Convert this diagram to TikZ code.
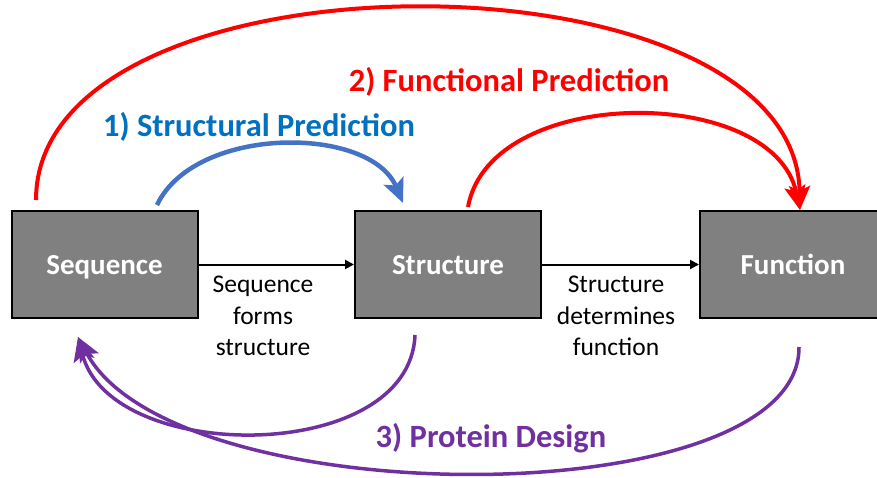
\documentclass[tikz,border=0pt]{standalone}
\usepackage{fontspec}
\setmainfont{Carlito}
\usetikzlibrary{arrows.meta}
\definecolor{boxgray}{HTML}{808080}
\definecolor{arcred}{HTML}{FF0000}
\definecolor{arcblue}{HTML}{4472C4}
\definecolor{titleblue}{HTML}{0070C0}
\definecolor{arcpurple}{HTML}{7030A0}
\begin{document}
\begin{tikzpicture}[x=1pt,y=-1pt,
  box/.style={draw=black, line width=2pt, fill=boxgray, minimum width=186pt, minimum height=107pt, inner sep=0pt, text height=23pt, text depth=3pt, text=white, font=\fontsize{29}{35}\selectfont\bfseries},
  title/.style={inner sep=0pt, font=\fontsize{32.5}{39}\selectfont\bfseries},
  note/.style={inner sep=0pt, align=center, font=\fontsize{25.5}{31.5}\selectfont},
  flow/.style={draw=black, line width=2pt, -{Triangle[length=9pt,width=9pt]}},
  bigtip/.style={-{Stealth[length=24pt,width=21pt,inset=5pt]}},
  redarc/.style={draw=arcred, line width=4pt, bigtip},
  bluearc/.style={draw=arcblue, line width=4.5pt, bigtip},
  purparc/.style={draw=arcpurple, line width=3.5pt, bigtip}
]
\clip (0,0) rectangle (877,477);
\useasboundingbox (0,0) rectangle (877,477);
\fill[white] (0,0) rectangle (877,477);

% boxes
\node[box] (seq) at (104.5,264.5) {Sequence};
\node[box] (struct) at (448,264.5) {Structure};
\node[box] (func) at (793,264.5) {Function};

% flow arrows
\draw[flow] (seq.east) -- (struct.west);
\draw[flow] (struct.east) -- (func.west);

% notes
\node[note] (n1) at (263,316) {Sequence\\forms\\structure};
\node[note] (n2) at (616,316) {Structure\\determines\\function};

% titles
\node[title, text=titleblue] (t1) at (259,127) {1) Structural Prediction};
\node[title, text=arcred] (t2) at (509,82) {2) Functional Prediction};
\node[title, text=arcpurple] (t3) at (491,438) {3) Protein Design};

% arc end points
\coordinate (bs) at (157,205);
\coordinate (be) at (403,203);
\coordinate (rs1) at (36,200);
\coordinate (rs2) at (468,207);
\coordinate (re) at (800,210);
\coordinate (ps1) at (415,335);
\coordinate (ps2) at (799,347);
\coordinate (pe) at (78,337);

% blue arc
\draw[bluearc] (bs) .. controls (195,125) and (370,125) .. (be);
% red arcs
\draw[redarc] (rs1) .. controls (36,-57) and (795,-57) .. (re);
\draw[redarc] (rs2) .. controls (490,84) and (773,84) .. (re);
% purple arcs
\draw[purparc] (ps1) .. controls (410,465) and (111,465) .. (pe);
\draw[purparc] (ps2) .. controls (800,516) and (174,516) .. (pe);
\end{tikzpicture}
\end{document}
